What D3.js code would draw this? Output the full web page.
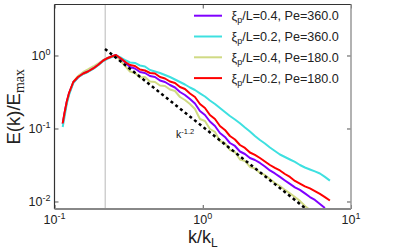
<!DOCTYPE html>
<html>
<head>
<meta charset="utf-8">
<script src="https://cdn.jsdelivr.net/npm/d3@7"></script>
<style>
  body { margin: 0; background: #fff; }
  svg { display: block; font-family: "Liberation Sans", Arial, sans-serif; }
</style>
</head>
<body>
<svg width="394" height="252"></svg>
<script>
// wavenumbers k/k_L shared by the four spectra
const kVals = [0.1136, 0.1168, 0.1209, 0.1253, 0.1339, 0.1440, 0.1564, 0.1682, 0.1826, 0.1965,
  0.2134, 0.2296, 0.2430, 0.2598, 0.2838, 0.3034,
  0.3229, 0.3489, 0.3771, 0.4076, 0.4406, 0.4762, 0.5146, 0.5562, 0.6011, 0.6497,
  0.7021, 0.7586, 0.8199, 0.8859, 0.9574, 1.035, 1.118, 1.209, 1.306, 1.411,
  1.525, 1.649, 1.782, 1.926, 2.081, 2.249, 2.431, 2.627, 2.839, 3.068,
  3.316, 3.584, 3.873, 4.185, 4.523, 4.889, 5.284, 5.710, 6.171, 6.668, 7.206];

const seriesXi = ["0.4", "0.2", "0.4", "0.2"];
const seriesPe = ["360.0", "360.0", "180.0", "180.0"];
const seriesColors = ["#8000ff", "#3ee0e0", "#d0da84", "#ff0000"];

const purpleE = [0.1152, 0.1605, 0.2307, 0.3017, 0.4267, 0.4996, 0.5667, 0.6035, 0.6637, 0.7412,
  0.8540, 0.9242, 0.9689, 1.016, 0.8814, 0.7896,
  0.6960, 0.6637, 0.5943, 0.5757, 0.5238, 0.5076, 0.4545, 0.4335, 0.3943, 0.3643,
  0.3162, 0.2877, 0.2535, 0.2201, 0.1737, 0.1531, 0.1247, 0.1082, 0.0868, 0.0765,
  0.0633, 0.0576, 0.0484, 0.0447, 0.0394, 0.0370, 0.0337, 0.0302, 0.0266, 0.0242,
  0.0217, 0.0194, 0.0174, 0.0156, 0.0144, 0.0129, 0.0115, 0.0105, 0.00924, 0.00815];
const cyanE = [0.1048, 0.1437, 0.2166, 0.2877, 0.4200, 0.4996, 0.5578, 0.5943, 0.6531, 0.7295,
  0.8407, 0.9097, 0.9539, 1.000, 0.9242, 0.8540,
  0.8018, 0.7896, 0.7295, 0.7071, 0.6330, 0.6035, 0.5757, 0.5406, 0.5076, 0.4690,
  0.4335, 0.4006, 0.3643, 0.3368, 0.3034, 0.2744, 0.2417, 0.2166, 0.1909, 0.1683,
  0.1483, 0.1328, 0.1178, 0.1032, 0.0910, 0.0789, 0.0696, 0.0623, 0.0549, 0.0492,
  0.0440, 0.0407, 0.0376, 0.0348, 0.0316, 0.0292, 0.0274, 0.0258, 0.0242, 0.0217, 0.0193];
const khakiE = [0.1152, 0.1580, 0.2236, 0.2970, 0.4335, 0.5238, 0.5943, 0.6430, 0.7071, 0.7771,
  0.8677, 0.9389, 0.9689, 1.000, 0.8146, 0.6960,
  0.6035, 0.5757, 0.4996, 0.5076, 0.4404, 0.4335, 0.3882, 0.3822, 0.3422, 0.3264,
  0.2701, 0.2456, 0.2166, 0.1850, 0.1349, 0.1267, 0.0984, 0.0896, 0.0674, 0.0633,
  0.0508, 0.0477, 0.0376, 0.0359, 0.0297, 0.0283, 0.0246, 0.0231, 0.0203, 0.0179,
  0.0163, 0.0144, 0.0129, 0.0115, 0.0102, 0.00868, 0.00765];
const redE = [0.1178, 0.1631, 0.2329, 0.3064, 0.4335, 0.5076, 0.5667, 0.6035, 0.6637, 0.7412,
  0.8540, 0.9242, 0.9689, 1.016, 0.8956, 0.8018,
  0.7412, 0.7181, 0.6430, 0.6230, 0.5757, 0.5667, 0.5076, 0.4841, 0.4404, 0.4200,
  0.3703, 0.3477, 0.3017, 0.2701, 0.2166, 0.1909, 0.1531, 0.1349, 0.1082, 0.0954,
  0.0789, 0.0707, 0.0594, 0.0541, 0.0469, 0.0434, 0.0394, 0.0353, 0.0316, 0.0288,
  0.0266, 0.0238, 0.0217, 0.0191, 0.0176, 0.0161, 0.0151, 0.0139, 0.0127, 0.0115, 0.0103];

// reference power law line (dashed) and the forcing wavenumber marker
const fitK = [0.219, 4.89];
const fitE = [1.23, 0.00815];
const markerK = 0.22;
const annK = 0.66, annE = 0.074;

const xTicks = [0.1, 1, 10];
const yTicks = [0.01, 0.1, 1];
const xTickExp = ["-1", "0", "1"];
const yTickExp = ["-2", "-1", "0"];

const margin = { top: 4.5, right: 43, bottom: 43, left: 54.5 };
const W = 394, H = 252;

const svg = d3.select("svg");

const x = d3.scaleLog().domain([0.1, 10]).range([margin.left, W - margin.right]);
const y = d3.scaleLog().domain([0.00789, 4.995]).range([H - margin.bottom, margin.top]);

const x0 = x.range()[0], x1 = x.range()[1];
const y0 = y.range()[0], y1 = y.range()[1];

svg.append("clipPath").attr("id", "plotclip")
  .append("rect")
  .attr("x", x0).attr("y", y1)
  .attr("width", x1 - x0)
  .attr("height", y0 - y1);

// grey vertical marker
svg.append("line")
  .attr("x1", x(markerK)).attr("x2", x(markerK))
  .attr("y1", y1).attr("y2", y0)
  .style("stroke", "#cfcfcf").style("stroke-width", 1.5);

const plot = svg.append("g").attr("clip-path", "url(#plotclip)");

const line = d3.line().x(d => x(d[0])).y(d => y(d[1]));

const series = [purpleE, cyanE, khakiE, redE];
// draw order: khaki, purple, cyan, red on top
[2, 0, 1, 3].forEach(i => {
  const pts = series[i].map((v, j) => [kVals[j], v]);
  plot.append("path")
    .datum(pts)
    .attr("d", line)
    .style("fill", "none")
    .style("stroke", seriesColors[i])
    .style("stroke-width", 2)
    .style("stroke-linejoin", "round");
});

plot.append("path")
  .datum(fitK.map((k, j) => [k, fitE[j]]))
  .attr("d", line)
  .style("fill", "none")
  .style("stroke", "#000")
  .style("stroke-width", 2.5)
  .style("stroke-dasharray", "3,3");

// axes (ticks inside, mirrored)
function styleAxis(g) {
  g.select(".domain").remove();
  g.selectAll(".tick line").style("stroke", "#555");
}
svg.append("g").attr("transform", `translate(0,${y0})`)
  .call(d3.axisBottom(x).tickValues(xTicks).tickSizeInner(-4).tickSizeOuter(0).tickFormat(""))
  .call(styleAxis);
svg.append("g").attr("transform", `translate(0,${y1})`)
  .call(d3.axisTop(x).tickValues(xTicks).tickSizeInner(-4).tickSizeOuter(0).tickFormat(""))
  .call(styleAxis);
svg.append("g").attr("transform", `translate(${x0},0)`)
  .call(d3.axisLeft(y).tickValues(yTicks).tickSizeInner(-4).tickSizeOuter(0).tickFormat(""))
  .call(styleAxis);
svg.append("g").attr("transform", `translate(${x1},0)`)
  .call(d3.axisRight(y).tickValues(yTicks).tickSizeInner(-4).tickSizeOuter(0).tickFormat(""))
  .call(styleAxis);

// frame
svg.append("line").attr("x1", x0).attr("x2", x1).attr("y1", y1).attr("y2", y1)
  .style("stroke", "#333").style("stroke-width", 1.2);
svg.append("line").attr("x1", x0).attr("x2", x0).attr("y1", y1).attr("y2", y0)
  .style("stroke", "#333").style("stroke-width", 1.2);
svg.append("line").attr("x1", x0).attr("x2", x1).attr("y1", y0).attr("y2", y0)
  .style("stroke", "#888").style("stroke-width", 1.8);
svg.append("line").attr("x1", x1).attr("x2", x1).attr("y1", y1).attr("y2", y0)
  .style("stroke", "#999").style("stroke-width", 1.5);

// tick labels with superscript exponents
xTicks.forEach((v, i) => {
  const t = svg.append("text")
    .attr("x", x(v)).attr("y", y0 + 14.5)
    .attr("text-anchor", "middle")
    .style("font-size", "12.5px").style("fill", "#222");
  t.append("tspan").text("10");
  t.append("tspan").attr("dy", -5).style("font-size", "9px").text(xTickExp[i]);
});
yTicks.forEach((v, i) => {
  const t = svg.append("text")
    .attr("x", x0 - 4).attr("y", y(v) + 4.5)
    .attr("text-anchor", "end")
    .style("font-size", "12.5px").style("fill", "#222");
  t.append("tspan").text("10");
  t.append("tspan").attr("dy", -5).style("font-size", "9px").text(yTickExp[i]);
});

// axis titles
const xl = svg.append("text")
  .attr("x", (x0 + x1) / 2).attr("y", 243)
  .attr("text-anchor", "middle")
  .style("font-size", "18px").style("fill", "#222");
xl.append("tspan").text("k/k");
xl.append("tspan").attr("dy", 4).style("font-size", "12px").text("L");

const yl = svg.append("text")
  .attr("transform", `translate(20,${(y0 + y1) / 2}) rotate(-90)`)
  .attr("text-anchor", "middle")
  .style("font-size", "18.5px").style("fill", "#222");
yl.append("tspan").text("E(k)/E");
yl.append("tspan").attr("dy", 4).style("font-family", "'Liberation Serif', serif")
  .style("font-size", "14px").text("max");

// power law annotation
const ann = svg.append("text")
  .attr("x", x(annK)).attr("y", y(annE))
  .style("font-size", "10.5px").style("fill", "#111");
ann.append("tspan").text("k");
ann.append("tspan").attr("dy", -4.5).style("font-size", "7.5px").text("-1.2");

// legend
const legend = svg.append("g");
seriesXi.forEach((xi, i) => {
  const cy = 15.7 + i * 20.8;
  legend.append("line")
    .attr("x1", 194).attr("x2", 222).attr("y1", cy).attr("y2", cy)
    .style("stroke", seriesColors[i]).style("stroke-width", 2);
  const t = legend.append("text")
    .attr("x", 231.5).attr("y", cy + 4.5)
    .style("font-size", "12.6px").style("fill", "#222");
  t.append("tspan").text("ξ");
  t.append("tspan").attr("dy", 3).style("font-size", "9px").text("p");
  t.append("tspan").attr("dy", -3).text(`/L=${xi}, Pe=${seriesPe[i]}`);
});
</script>
</body>
</html>
